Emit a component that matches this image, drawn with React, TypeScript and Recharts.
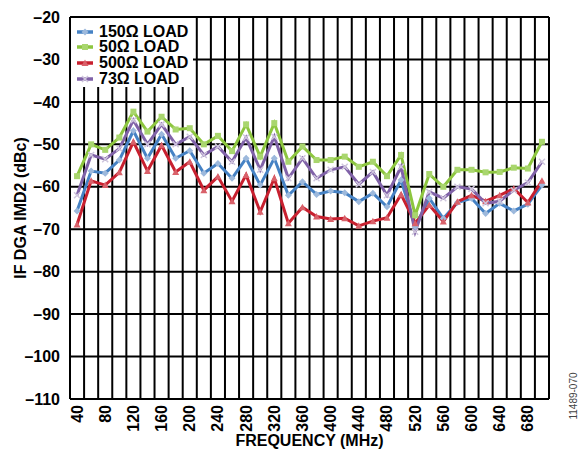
import React from 'react';
import { LineChart, Line, XAxis, YAxis, CartesianGrid, Legend, Label } from 'recharts';

const FREQ_MHZ = [40, 60, 80, 100, 120, 140, 160, 180, 200, 220, 240, 260, 280, 300, 320, 340, 360,
  380, 400, 420, 440, 460, 480, 500, 520, 540, 560, 580, 600, 620, 640, 660, 680, 700];

const LOAD_150 = [-65.7, -56.3, -56.8, -53.7, -46.8, -53.3, -47.6, -53.3, -51.5, -56.8, -54.5, -58, -53.3,
  -59.6, -53.3, -62, -58.8, -61.8, -61, -61.4, -63.5, -61.5, -64.7, -58.4, -69.4, -62.7, -67.5, -63.7,
  -62.7, -66.3, -63.9, -65.7, -64.1, -59.6];
const LOAD_50 = [-57.5, -50, -51.3, -48.4, -42.3, -47, -43.5, -46.5, -46.2, -50, -48, -51.6, -45.3,
  -52.9, -45, -54.1, -50.5, -53.7, -53.7, -52.9, -55.3, -54.1, -57.5, -52.5, -66.7, -57, -60, -56,
  -56, -56.6, -56.5, -55.5, -55.7, -49.4];
const LOAD_500 = [-68.9, -58.6, -59.6, -56.6, -49.4, -56.3, -50.2, -56.5, -54.1, -60.8, -57.6, -63.4, -57.2,
  -65.9, -58, -68.6, -64.8, -67, -67.6, -67.4, -69.2, -68.1, -67.3, -61.8, -68.6, -64.3, -68.2, -63.5,
  -62, -63.4, -62, -60.4, -63.7, -58.6];
const LOAD_73 = [-62, -52.5, -53.5, -51, -44.3, -50, -45.3, -50, -48.2, -52.5, -50.5, -54.1, -48.4,
  -56, -48.2, -58, -53.3, -58, -56, -55.3, -59.4, -56.5, -62, -55.3, -70.6, -61.2, -62.7, -60,
  -60.5, -63.9, -63.4, -60.8, -59, -54.1];

const X_TICKS = [40, 80, 120, 160, 200, 240, 280, 320, 360, 400, 440, 480, 520, 560, 600, 640, 680];
const X_GRID = [30, 50, 70, 90, 110, 130, 150, 170, 190, 210, 230, 250, 270, 290, 310, 330, 350, 370,
  390, 410, 430, 450, 470, 490, 510, 530, 550, 570, 590, 610, 630, 650, 670, 690, 710];
const X_DOMAIN = [30, 710];
const Y_TICKS = [-110, -100, -90, -80, -70, -60, -50, -40, -30, -20];

const data = FREQ_MHZ.map((f, i) => ({
  freq: f,
  l150: LOAD_150[i],
  l50: LOAD_50[i],
  l500: LOAD_500[i],
  l73: LOAD_73[i],
}));

const FONT = '"Liberation Sans", Arial, Helvetica, sans-serif';

const SERIES = [
  { key: 'l150', name: '150Ω LOAD', color: '#4682C4', mark: 'diamond', markFill: '#9db9dc' },
  { key: 'l50', name: '50Ω LOAD', color: '#8DC63F', mark: 'square', markFill: '#a9d66e' },
  { key: 'l500', name: '500Ω LOAD', color: '#C8202F', mark: 'triangle', markFill: '#d9616a' },
  { key: 'l73', name: '73Ω LOAD', color: '#8062A8', mark: 'x', markFill: '#cfc6dd' },
];

const Marker = ({ cx, cy, mark, fill }: any) => {
  if (cx == null || cy == null) return null;
  if (mark === 'square') return <rect x={cx - 3} y={cy - 3} width={6} height={6} fill={fill} />;
  if (mark === 'diamond') return <path d={`M${cx},${cy - 3.5}L${cx + 3.5},${cy}L${cx},${cy + 3.5}L${cx - 3.5},${cy}Z`} fill={fill} />;
  if (mark === 'triangle') return <path d={`M${cx},${cy - 3.5}L${cx + 3.5},${cy + 3}L${cx - 3.5},${cy + 3}Z`} fill={fill} />;
  return (
    <path d={`M${cx - 3},${cy - 3}L${cx + 3},${cy + 3}M${cx + 3},${cy - 3}L${cx - 3},${cy + 3}`}
      stroke={fill} strokeWidth={1.5} fill="none" />
  );
};

const LegendBox = () => (
  <div style={{ background: '#fff', width: 122, height: 69, paddingTop: 6, boxSizing: 'border-box' }}>
    {SERIES.map(s => (
      <div key={s.key} style={{ display: 'flex', alignItems: 'center', height: 15.6, font: `bold 16px ${FONT}`, color: '#000' }}>
        <svg width={28} height={12} style={{ flex: 'none' }}>
          <line x1={6} y1={6} x2={22} y2={6} stroke={s.color} strokeWidth={3.5} />
          <Marker cx={14} cy={6} mark={s.mark} fill={s.markFill} />
        </svg>
        <span style={{ whiteSpace: 'nowrap' }}>{s.name}</span>
      </div>
    ))}
  </div>
);

const XTick = ({ x, y, payload }: any) => (
  <text x={x} y={y} transform={`rotate(-90, ${x}, ${y})`} textAnchor="end" dominantBaseline="central"
    style={{ font: `bold 16px ${FONT}` }} fill="#000">
    {payload.value}
  </text>
);

const fmtY = (v: number) => (v < 0 ? '\u2013' + Math.abs(v) : String(v));

// vertical grid sits on the category boundaries, between the data points
const gridX = ({ xAxis, offset }: any) =>
  X_GRID.map(v => {
    const sc = xAxis && xAxis.scale;
    if (typeof sc === 'function') return sc(v);
    if (sc && typeof sc.map === 'function') return sc.map(v);
    return offset.left + ((v - X_DOMAIN[0]) / (X_DOMAIN[1] - X_DOMAIN[0])) * offset.width;
  });

export default function App() {
  return (
    <div style={{ position: 'absolute', left: 0, top: 0, width: 581, height: 452, background: '#fff' }}>
      <LineChart width={581} height={452} data={data} margin={{ top: 17, right: 32, left: 0, bottom: 0 }}>
        <CartesianGrid stroke="#000" strokeWidth={2} verticalCoordinatesGenerator={gridX} />
        <XAxis
          dataKey="freq"
          type="number"
          domain={X_DOMAIN}
          ticks={X_TICKS}
          interval={0}
          height={53}
          tickLine={false}
          tickSize={0}
          tickMargin={6}
          axisLine={{ stroke: '#000', strokeWidth: 2 }}
          tick={<XTick />}
        >
          <Label
            content={({ viewBox }: any) => (
              <text x={viewBox.x + viewBox.width / 2} y={viewBox.y + 47} textAnchor="middle"
                style={{ font: `bold 16px ${FONT}` }} fill="#000">
                FREQUENCY (MHz)
              </text>
            )}
          />
        </XAxis>
        <YAxis
          type="number"
          domain={[-110, -20]}
          ticks={Y_TICKS}
          interval={0}
          width={70}
          tickLine={false}
          tickSize={0}
          tickMargin={10}
          tickFormatter={fmtY}
          axisLine={{ stroke: '#000', strokeWidth: 2 }}
          tick={{ fill: '#000', fontSize: 16, fontWeight: 'bold', fontFamily: FONT }}
        >
          <Label
            content={({ viewBox }: any) => {
              const cy = viewBox.y + viewBox.height / 2;
              return (
                <text x={20} y={cy} transform={`rotate(-90, 20, ${cy})`} textAnchor="middle" dominantBaseline="central"
                  style={{ font: `bold 16px ${FONT}` }} fill="#000">
                  IF DGA IMD2 (dBc)
                </text>
              );
            }}
          />
        </YAxis>
        <Legend
          layout="vertical"
          align="center"
          verticalAlign="middle"
          content={<LegendBox />}
          wrapperStyle={{ position: 'absolute', left: 71, top: 18, width: 122, height: 69 }}
        />
        {SERIES.map(s => (
          <Line
            key={s.key}
            dataKey={s.key}
            name={s.name}
            type="linear"
            stroke={s.color}
            strokeWidth={3}
            isAnimationActive={false}
            dot={(p: any) => <Marker key={`${s.key}-${p.index}`} cx={p.cx} cy={p.cy} mark={s.mark} fill={s.markFill} />}
            activeDot={false}
          />
        ))}
      </LineChart>
      <div
        style={{
          position: 'absolute', left: 573, top: 396, transform: 'translate(-50%, -50%) rotate(-90deg)',
          font: `10px ${FONT}`, color: '#444', whiteSpace: 'nowrap',
        }}
      >
        11489-070
      </div>
    </div>
  );
}
